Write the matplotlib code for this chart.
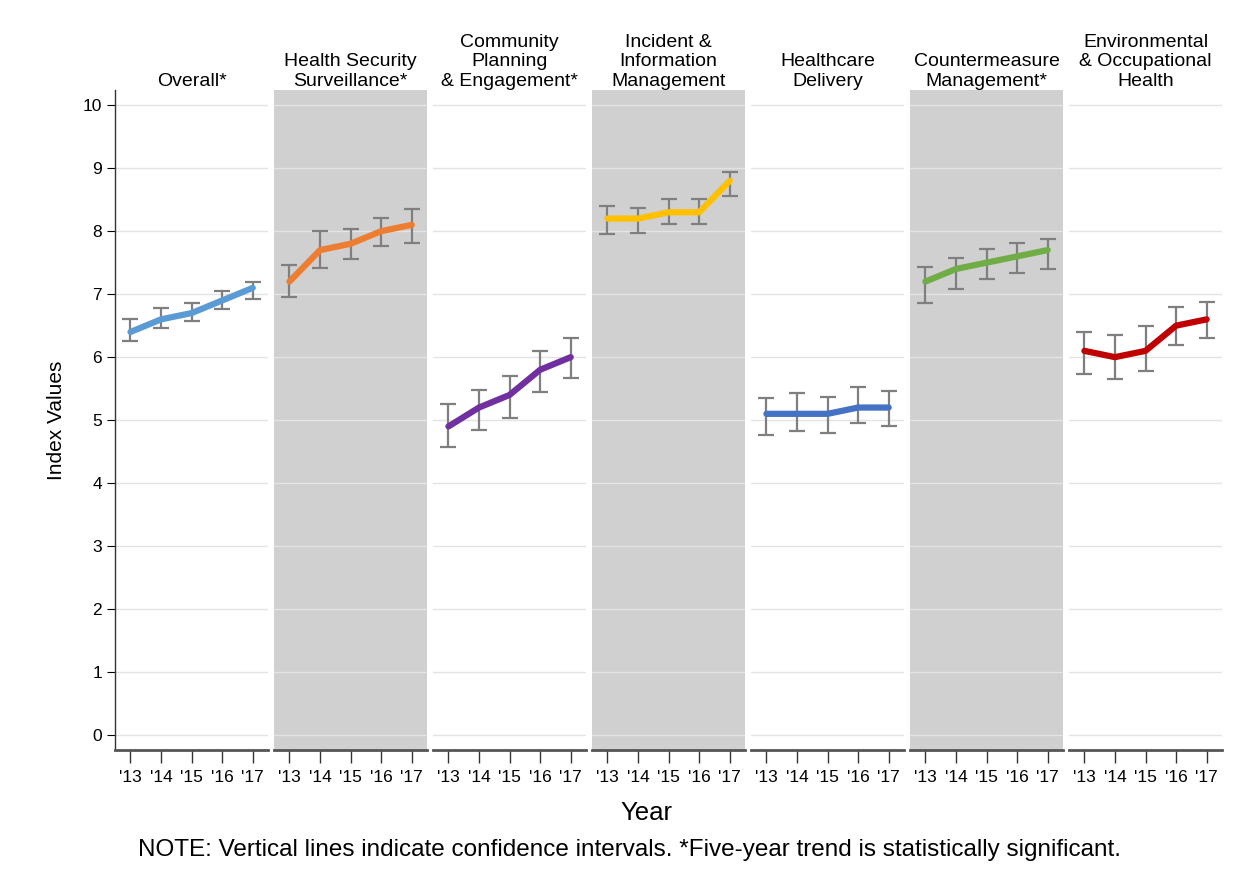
import numpy as np
import matplotlib.pyplot as plt

plt.rcParams["font.family"] = ["Liberation Sans", "DejaVu Sans"]

years = [13, 14, 15, 16, 17]
year_labels = ["'13", "'14", "'15", "'16", "'17"]

titles = [
    "Overall*",
    "Health Security\nSurveillance*",
    "Community\nPlanning\n& Engagement*",
    "Incident &\nInformation\nManagement",
    "Healthcare\nDelivery",
    "Countermeasure\nManagement*",
    "Environmental\n& Occupational\nHealth",
]
colors = ["#5B9BD5", "#ED7D31", "#7030A0", "#FFC000", "#4472C4", "#70AD47", "#C00000"]

overall = [6.4, 6.6, 6.7, 6.9, 7.1]
overall_lo = [6.25, 6.46, 6.57, 6.76, 6.92]
overall_hi = [6.61, 6.78, 6.86, 7.05, 7.19]

surveillance = [7.2, 7.7, 7.8, 8.0, 8.1]
surveillance_lo = [6.95, 7.42, 7.56, 7.76, 7.82]
surveillance_hi = [7.46, 8.0, 8.03, 8.21, 8.35]

community = [4.9, 5.2, 5.4, 5.8, 6.0]
community_lo = [4.57, 4.84, 5.03, 5.44, 5.67]
community_hi = [5.25, 5.48, 5.70, 6.09, 6.30]

incident = [8.2, 8.2, 8.3, 8.3, 8.8]
incident_lo = [7.95, 7.97, 8.11, 8.11, 8.56]
incident_hi = [8.40, 8.37, 8.51, 8.51, 8.94]

healthcare = [5.1, 5.1, 5.1, 5.2, 5.2]
healthcare_lo = [4.76, 4.83, 4.79, 4.95, 4.90]
healthcare_hi = [5.35, 5.43, 5.36, 5.52, 5.46]

countermeasure = [7.2, 7.4, 7.5, 7.6, 7.7]
countermeasure_lo = [6.86, 7.08, 7.24, 7.33, 7.40]
countermeasure_hi = [7.43, 7.57, 7.71, 7.81, 7.87]

environmental = [6.1, 6.0, 6.1, 6.5, 6.6]
environmental_lo = [5.73, 5.65, 5.78, 6.20, 6.30]
environmental_hi = [6.40, 6.35, 6.49, 6.80, 6.88]

series = [overall, surveillance, community, incident, healthcare, countermeasure, environmental]
lows = [overall_lo, surveillance_lo, community_lo, incident_lo, healthcare_lo, countermeasure_lo, environmental_lo]
highs = [overall_hi, surveillance_hi, community_hi, incident_hi, healthcare_hi, countermeasure_hi, environmental_hi]
shaded = [False, True, False, True, False, True, False]

fig, axes = plt.subplots(1, 7, figsize=(12.52, 8.92), dpi=100, sharey=True,
                         gridspec_kw={"wspace": 0.04})
fig.subplots_adjust(left=0.092, right=0.976, top=0.899, bottom=0.159)

for i, ax in enumerate(axes):
    vals = np.array(series[i])
    lo = np.array(lows[i])
    hi = np.array(highs[i])
    ax.set_facecolor("#D0D0D0" if shaded[i] else "white")
    for y in range(0, 11):
        ax.axhline(y, color="#E4E4E4", linewidth=1, zorder=0)
    ax.errorbar(years, vals, yerr=[vals - lo, hi - vals], fmt="none",
                ecolor="#7F7F7F", elinewidth=1.6, capsize=6, capthick=1.6, zorder=2)
    ax.plot(years, vals, color=colors[i], linewidth=4.5, solid_capstyle="round", zorder=3)
    ax.set_xlim(12.5, 17.5)
    ax.set_ylim(-0.24, 10.24)
    ax.set_xticks(years)
    ax.set_xticklabels(year_labels, fontsize=12.5)
    ax.tick_params(axis="x", direction="out", length=9, width=1, color="#333333", pad=5)
    for side in ["top", "right", "left"]:
        ax.spines[side].set_visible(False)
    ax.spines["bottom"].set_color("#555555")
    ax.spines["bottom"].set_linewidth(2)
    ax.set_title(titles[i], fontsize=14, pad=3, linespacing=1.2)
    if i == 0:
        ax.spines["left"].set_visible(True)
        ax.spines["left"].set_color("#333333")
        ax.spines["left"].set_linewidth(1)
        ax.set_yticks(range(0, 11))
        ax.tick_params(axis="y", direction="out", length=6, labelsize=12.5)
        ax.set_ylabel("Index Values", fontsize=15, labelpad=12)
    else:
        ax.tick_params(axis="y", left=False)

fig.text(0.516, 0.089, "Year", ha="center", va="center", fontsize=18.5)
fig.text(0.503, 0.047, "NOTE: Vertical lines indicate confidence intervals. *Five-year trend is statistically significant.",
         ha="center", va="center", fontsize=17.5)

plt.savefig("out.png", dpi=100)
